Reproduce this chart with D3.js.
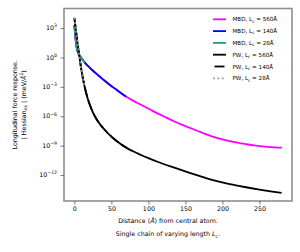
<!DOCTYPE html>
<html>
<head>
<meta charset="utf-8">
<script src="https://cdn.jsdelivr.net/npm/d3@7/dist/d3.min.js"></script>
<style>
  body { margin: 0; background: #fff; }
  svg text { font-family: "DejaVu Sans", sans-serif; fill: #000; }
</style>
</head>
<body>
<div id="graph"></div>
<script>
// Values, y values kept as log10 of the response
const mbd560Dist = [0, 1.5, 3, 5, 7.7, 11, 15, 20, 24.8, 30, 35, 41, 47.3, 57, 67.6, 78, 90, 105, 120, 135, 150, 165, 189, 210, 230, 243, 260, 270, 278, 280]
const mbd560Log  = [3.3, 2.0, 1.05, 0.5, 0.13, -0.2, -0.6, -0.98, -1.33, -1.68, -2.0, -2.38, -2.76, -3.3, -3.88, -4.35, -4.83, -5.42, -5.98, -6.53, -7.0, -7.45, -8.13, -8.55, -8.82, -8.98, -9.12, -9.18, -9.21, -9.14]

const mbd140Dist = [0, 1.5, 3, 5, 7.7, 11, 15, 20, 24.8, 30, 35, 41, 47.3, 57, 67.6, 70]
const mbd140Log  = [3.3, 2.0, 1.05, 0.5, 0.13, -0.2, -0.6, -0.98, -1.33, -1.68, -2.0, -2.38, -2.76, -3.3, -3.88, -4.0]

const mbd28Dist = [0, 1.5, 3, 5, 7.7, 11, 14]
const mbd28Log  = [3.3, 2.0, 1.05, 0.5, 0.13, -0.2, -0.5]

const pw560Dist = [0, 2.5, 5, 7.5, 10, 12.5, 15, 17.5, 20, 22.5, 25, 30, 35, 40, 47.5, 55, 62.5, 70, 80, 90, 100, 115, 130, 145, 160, 175, 190, 210, 230, 250, 265, 280]
const pw560Log  = [4.05, 2.55, 1.05, -0.3, -1.5, -2.5, -3.35, -4.05, -4.65, -5.15, -5.6, -6.3, -6.85, -7.3, -7.9, -8.4, -8.83, -9.2, -9.6, -9.95, -10.28, -10.72, -11.12, -11.5, -11.88, -12.24, -12.58, -12.93, -13.22, -13.48, -13.66, -13.82]

const pw140Dist = [0, 2.5, 5, 7.5, 10, 12.5, 15, 17.5, 20, 22.5, 25, 30, 35, 40, 47.5, 55, 62.5, 70]
const pw140Log  = [4.05, 2.55, 1.05, -0.3, -1.5, -2.5, -3.35, -4.05, -4.65, -5.15, -5.6, -6.3, -6.85, -7.3, -7.9, -8.4, -8.83, -9.2]

const pw28Dist = [0, 2.5, 5, 7.5, 10, 12.5, 14]
const pw28Log  = [4.05, 2.55, 1.05, -0.3, -1.5, -2.5, -3.0]

const xTicks = [0, 50, 100, 150, 200, 250]
const yTickExps = [3, 0, -3, -6, -9, -12]

const legendNames = ["MBD", "MBD", "MBD", "PW", "PW", "PW"]
const legendLengths = ["560", "140", "28", "560", "140", "28"]

// Series styling, in drawing order
const series = [
    { dist: mbd560Dist, log: mbd560Log, color: "#ff00ff", width: 1.8, dash: null },
    { dist: mbd140Dist, log: mbd140Log, color: "#0000ff", width: 1.8, dash: null },
    { dist: mbd28Dist,  log: mbd28Log,  color: "#1b9e8c", width: 1.8, dash: null },
    { dist: pw560Dist,  log: pw560Log,  color: "#000000", width: 1.8, dash: null },
    { dist: pw140Dist,  log: pw140Log,  color: "#000000", width: 1.8, dash: "10,4" },
    { dist: pw28Dist,   log: pw28Log,   color: "#9a9a9a", width: 1.8, dash: "1.8,2.6" }
]

const width = 300
const height = 252
const plotLeft = 64, plotRight = 292, plotTop = 8.5, plotBottom = 201

const svg = d3.select("#graph")
              .append("svg")
              .attr("width", width)
              .attr("height", height)

const xScale = d3.scaleLinear()
                 .domain([-14, 294])
                 .range([plotLeft, plotRight])

const yScale = d3.scaleLog()
                 .domain([Math.pow(10, -14.65), Math.pow(10, 5.0)])
                 .range([plotBottom, plotTop])

// Lines
const line = d3.line()
               .x(d => xScale(d[0]))
               .y(d => yScale(Math.pow(10, d[1])))
               .curve(d3.curveMonotoneX)

series.forEach(s => {
    const pts = s.dist.map((d, i) => [d, s.log[i]])
    svg.append("path")
       .attr("d", line(pts))
       .attr("fill", "none")
       .attr("stroke", s.color)
       .attr("stroke-width", s.width)
       .attr("stroke-dasharray", s.dash)
})

// Frame
svg.append("rect")
   .attr("x", plotLeft)
   .attr("y", plotTop)
   .attr("width", plotRight - plotLeft)
   .attr("height", plotBottom - plotTop)
   .attr("fill", "none")
   .attr("stroke", "#8f8f8f")
   .attr("stroke-width", 1.6)

// x axis
const xAxis = svg.append("g")
   .attr("transform", `translate(0,${plotBottom})`)
   .call(d3.axisBottom(xScale).tickValues(xTicks).tickSize(3.5).tickPadding(2.5))
xAxis.select(".domain").remove()
xAxis.selectAll("line").attr("stroke", "#555").attr("stroke-width", 0.8)
xAxis.selectAll("text").attr("font-size", 6.3).attr("font-family", "DejaVu Sans")

// y axis with superscript labels
const yAxis = svg.append("g")
   .attr("transform", `translate(${plotLeft},0)`)
   .call(d3.axisLeft(yScale).tickValues(yTickExps.map(e => Math.pow(10, e))).tickSize(3.5).tickFormat(""))
yAxis.select(".domain").remove()
yAxis.selectAll("line").attr("stroke", "#555").attr("stroke-width", 0.8)

yTickExps.forEach(e => {
    const t = svg.append("text")
       .attr("x", plotLeft - 7)
       .attr("y", yScale(Math.pow(10, e)) + 2.2)
       .attr("text-anchor", "end")
       .attr("font-size", 6.3)
    t.append("tspan").text("10")
    t.append("tspan").attr("dy", -2.8).attr("font-size", 4.6).text(e < 0 ? "\u2212" + (-e) : e)
})

// x axis label
const xl1 = svg.append("text")
   .attr("x", 168).attr("y", 222.6)
   .attr("text-anchor", "middle").attr("font-size", 6.3)
xl1.append("tspan").text("Distance (")
xl1.append("tspan").attr("font-style", "italic").text("Å")
xl1.append("tspan").text(") from central atom.")

const xl2 = svg.append("text")
   .attr("x", 168).attr("y", 236.4)
   .attr("text-anchor", "middle").attr("font-size", 6.3)
xl2.append("tspan").text("Single chain of varying length ")
xl2.append("tspan").attr("font-style", "italic").text("L")
xl2.append("tspan").attr("dy", 1.5).attr("font-size", 4.6).text("c")
xl2.append("tspan").attr("dy", -1.5).text(".")

// y axis label
const yMid = (plotTop + plotBottom) / 2
svg.append("text")
   .attr("transform", `translate(17.3,${yMid}) rotate(-90)`)
   .attr("text-anchor", "middle").attr("font-size", 6.3)
   .text("Longitudinal force response.")

const yl2 = svg.append("text")
   .attr("transform", `translate(25.8,${yMid}) rotate(-90)`)
   .attr("text-anchor", "middle").attr("font-size", 6.3)
yl2.append("tspan").text("| Hessian")
yl2.append("tspan").attr("dy", 1.5).attr("font-size", 4.6).text("xx")
yl2.append("tspan").attr("dy", -1.5).text(" |  (meV/")
yl2.append("tspan").attr("font-style", "italic").text("Å")
yl2.append("tspan").attr("dy", -2.6).attr("font-size", 4.6).text("2")
yl2.append("tspan").attr("dy", 2.6).text(")")

// Legend
series.forEach((s, i) => {
    const y = 19.3 + i * 11.8
    svg.append("line")
       .attr("x1", 213).attr("x2", 226)
       .attr("y1", y).attr("y2", y)
       .attr("stroke", s.color)
       .attr("stroke-width", s.width)
       .attr("stroke-dasharray", s.dash)
       .attr("stroke-dashoffset", i == 4 ? -1.5 : 0)
    const t = svg.append("text")
       .attr("x", 232.5).attr("y", y + 2)
       .attr("font-size", 5.6)
    t.append("tspan").text(legendNames[i] + ", L")
    t.append("tspan").attr("dy", 1.3).attr("font-size", 4.1).text("c")
    t.append("tspan").attr("dy", -1.3).text(" = " + legendLengths[i] + "Å")
})
</script>
</body>
</html>
